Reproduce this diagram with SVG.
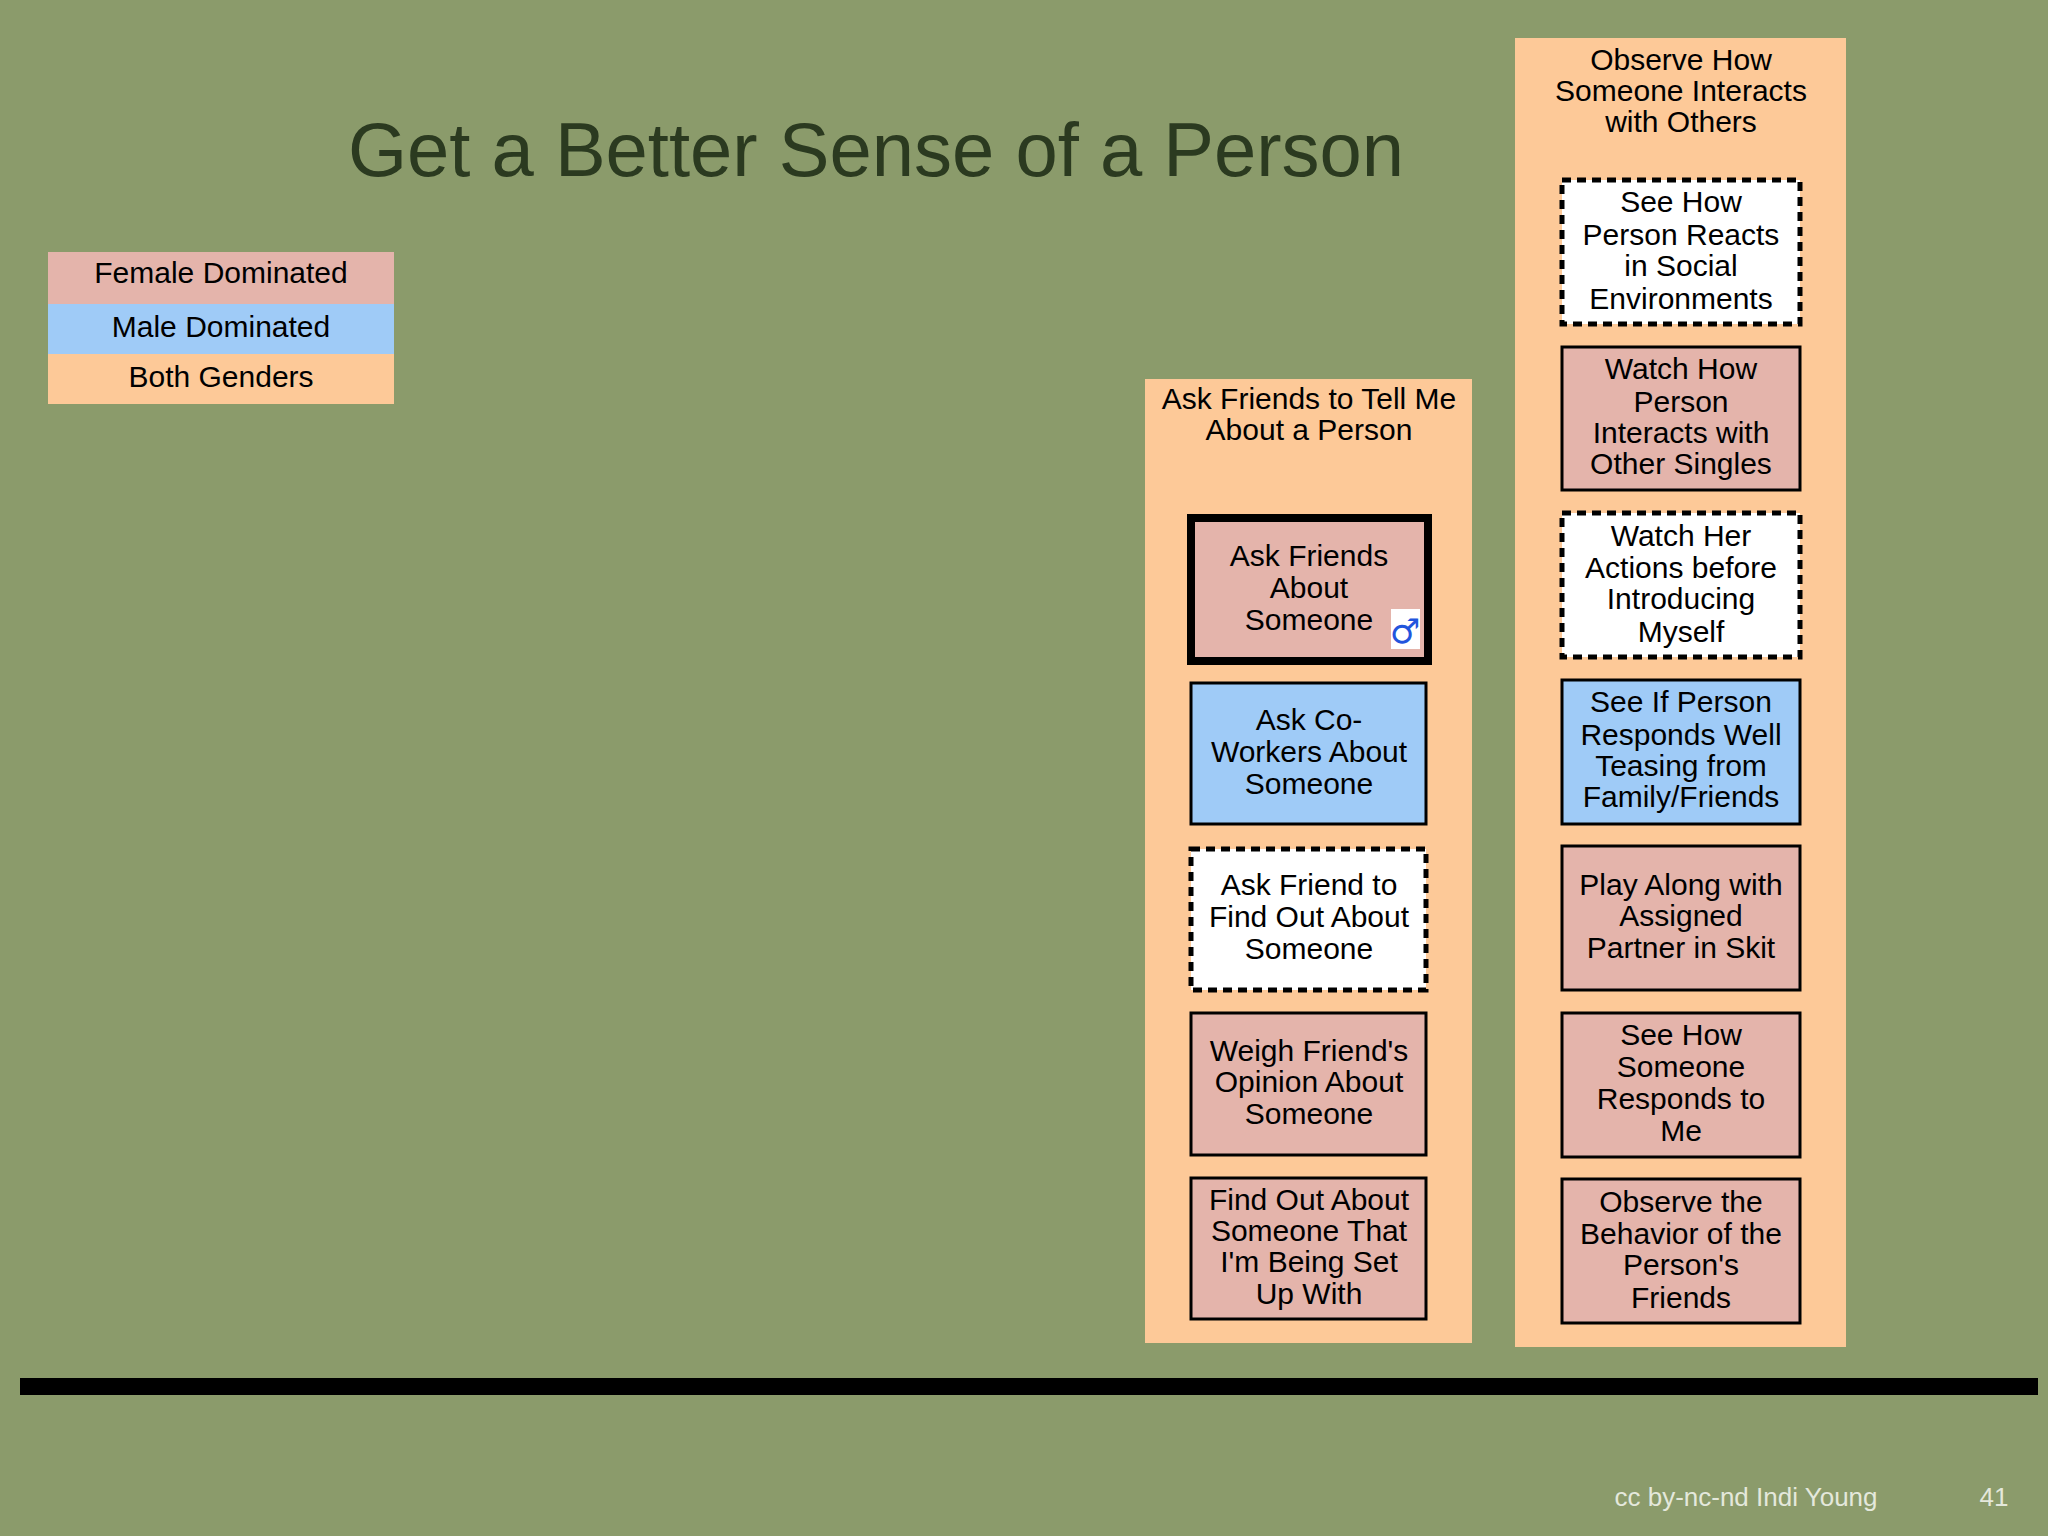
<svg xmlns="http://www.w3.org/2000/svg" width="2048" height="1536" viewBox="0 0 2048 1536">
<style>
text{font-family:"Liberation Sans",Arial,sans-serif;fill:#000;text-anchor:middle}
.t{font-size:30px}
.col{fill:#fdc998}
.f{fill:#e4b4ab;stroke:#000;stroke-width:3}
.m{fill:#9fcbf7;stroke:#000;stroke-width:3}
.w{fill:#fff;stroke:#000;stroke-width:5;stroke-dasharray:9 6}
</style>
<rect width="2048" height="1536" fill="#8b9b6b"/>
<text x="876" y="176" style="font-size:76px;fill:#2b3a20">Get a Better Sense of a Person</text>
<g id="legend">
<rect x="48" y="252" width="346" height="52" fill="#e4b4ab"/>
<rect x="48" y="304" width="346" height="50" fill="#9fcbf7"/>
<rect x="48" y="354" width="346" height="50" fill="#fdc998"/>
<text class="t" x="221" y="283">Female Dominated</text>
<text class="t" x="221" y="337">Male Dominated</text>
<text class="t" x="221" y="387">Both Genders</text>
</g>
<g id="col1">
<rect class="col" x="1145" y="379" width="327" height="964"/>
<text class="t"><tspan x="1309" y="409">Ask Friends to Tell Me</tspan><tspan x="1309" y="440">About a Person</tspan></text>
</g>
<g id="c1n1"><rect x="1191" y="518" width="237" height="143" fill="#e4b4ab" stroke="#000" stroke-width="8"/>
<text class="t"><tspan x="1309" y="566">Ask Friends</tspan><tspan x="1309" y="598">About</tspan><tspan x="1309" y="630">Someone</tspan></text>
<rect x="1391" y="609" width="29" height="40" fill="#fff"/><text x="1405" y="643" style="font-size:34px;fill:#2255dd;font-family:'DejaVu Sans',sans-serif">♂</text></g>
<g id="c1n2"><rect class="m" x="1191" y="683" width="235" height="141"/>
<text class="t"><tspan x="1309" y="730">Ask Co-</tspan><tspan x="1309" y="762">Workers About</tspan><tspan x="1309" y="794">Someone</tspan></text></g>
<g id="c1n3"><rect class="w" x="1191" y="849" width="235" height="141"/>
<text class="t"><tspan x="1309" y="895">Ask Friend to</tspan><tspan x="1309" y="927">Find Out About</tspan><tspan x="1309" y="959">Someone</tspan></text></g>
<g id="c1n4"><rect class="f" x="1191" y="1013" width="235" height="142"/>
<text class="t"><tspan x="1309" y="1061">Weigh Friend's</tspan><tspan x="1309" y="1092">Opinion About</tspan><tspan x="1309" y="1124">Someone</tspan></text></g>
<g id="c1n5"><rect class="f" x="1191" y="1178" width="235" height="141"/>
<text class="t"><tspan x="1309" y="1210">Find Out About</tspan><tspan x="1309" y="1241">Someone That</tspan><tspan x="1309" y="1272">I'm Being Set</tspan><tspan x="1309" y="1304">Up With</tspan></text></g>
<g id="col2">
<rect class="col" x="1515" y="38" width="331" height="1309"/>
<text class="t"><tspan x="1681" y="70">Observe How</tspan><tspan x="1681" y="101">Someone Interacts</tspan><tspan x="1681" y="132">with Others</tspan></text>
</g>
<g id="c2n1"><rect class="w" x="1562" y="180" width="238" height="144"/>
<text class="t"><tspan x="1681" y="212">See How</tspan><tspan x="1681" y="245">Person Reacts</tspan><tspan x="1681" y="276">in Social</tspan><tspan x="1681" y="309">Environments</tspan></text></g>
<g id="c2n2"><rect class="f" x="1562" y="347" width="238" height="143"/>
<text class="t"><tspan x="1681" y="379">Watch How</tspan><tspan x="1681" y="412">Person</tspan><tspan x="1681" y="443">Interacts with</tspan><tspan x="1681" y="474">Other Singles</tspan></text></g>
<g id="c2n3"><rect class="w" x="1562" y="513" width="238" height="144"/>
<text class="t"><tspan x="1681" y="546">Watch Her</tspan><tspan x="1681" y="578">Actions before</tspan><tspan x="1681" y="609">Introducing</tspan><tspan x="1681" y="642">Myself</tspan></text></g>
<g id="c2n4"><rect class="m" x="1562" y="680" width="238" height="144"/>
<text class="t"><tspan x="1681" y="712">See If Person</tspan><tspan x="1681" y="745">Responds Well</tspan><tspan x="1681" y="776">Teasing from</tspan><tspan x="1681" y="807">Family/Friends</tspan></text></g>
<g id="c2n5"><rect class="f" x="1562" y="846" width="238" height="144"/>
<text class="t"><tspan x="1681" y="895">Play Along with</tspan><tspan x="1681" y="926">Assigned</tspan><tspan x="1681" y="958">Partner in Skit</tspan></text></g>
<g id="c2n6"><rect class="f" x="1562" y="1013" width="238" height="144"/>
<text class="t"><tspan x="1681" y="1045">See How</tspan><tspan x="1681" y="1077">Someone</tspan><tspan x="1681" y="1109">Responds to</tspan><tspan x="1681" y="1141">Me</tspan></text></g>
<g id="c2n7"><rect class="f" x="1562" y="1179" width="238" height="144"/>
<text class="t"><tspan x="1681" y="1212">Observe the</tspan><tspan x="1681" y="1244">Behavior of the</tspan><tspan x="1681" y="1275">Person's</tspan><tspan x="1681" y="1308">Friends</tspan></text></g>
<g id="connectors"></g>
<rect x="20" y="1378" width="2018" height="17" fill="#000"/>
<text x="1746" y="1506" style="font-size:26px;fill:#e4e8dc">cc by-nc-nd Indi Young</text>
<text x="1994" y="1506" style="font-size:26px;fill:#e4e8dc">41</text>
</svg>
